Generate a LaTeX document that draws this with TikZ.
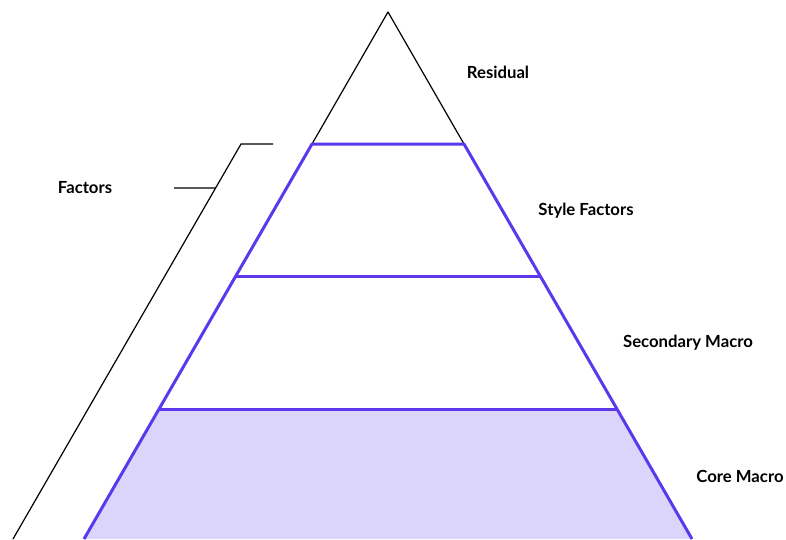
\documentclass[tikz,border=0pt]{standalone}
\usepackage{fontspec}
\setmainfont{Lato}
\usepackage{tikz}
\usetikzlibrary{calc}
\definecolor{cviolet}{HTML}{5B38EC}
\definecolor{lightviolet}{HTML}{DCD5FB}

\tikzset{
  layer/.style={draw=cviolet, line width=3pt, line join=round},
  guide/.style={draw=black, line width=1.2pt},
  lbl/.style={font=\bfseries\fontsize{16.7}{19}\selectfont, inner sep=0pt}
}

\begin{document}
\begin{tikzpicture}[x=1pt, y=-1pt]
  \useasboundingbox (0,0) rectangle (786,539);

  % Corners of the layers
  \coordinate (apex) at (388,12);
  \coordinate (resL) at (312,144);  \coordinate (resR) at (464,144);
  \coordinate (styL) at (236,276);  \coordinate (styR) at (540,276);
  \coordinate (secL) at (160,409);  \coordinate (secR) at (616,409);
  \coordinate (botL) at (84,539);   \coordinate (botR) at (692,539);

  % Core layer
  \fill[lightviolet] (secL) -- (secR) -- (botR) -- (botL) -- cycle;

  % Residual tip
  \draw[guide, line join=round] (resL) -- (apex) -- (resR);

  % Factor layers
  \draw[layer] (botL) -- (resL) -- (resR) -- (botR);
  \draw[layer] (styL) -- (styR);
  \draw[layer] (secL) -- (secR);

  % Factors bracket
  \coordinate (brTop) at (273,144);
  \coordinate (brKnee) at (241,144);
  \coordinate (brEnd) at (13,539);
  \coordinate (brTick) at (174,188);
  \draw[guide] (brTop) -- (brKnee) -- (brEnd);
  \draw[guide] (brTick) -- (intersection of brTick--{$(brTick)+(1,0)$} and brKnee--brEnd);

  % Labels
  \node[lbl] (factors) at (85,188) {Factors};
  \node[lbl] (residual) at (498,72) {Residual};
  \node[lbl] (style) at (586,211) {Style Factors};
  \node[lbl] (secondary) at (688,343) {Secondary Macro};
  \node[lbl] (core) at (740,476) {Core Macro};
\end{tikzpicture}
\end{document}
